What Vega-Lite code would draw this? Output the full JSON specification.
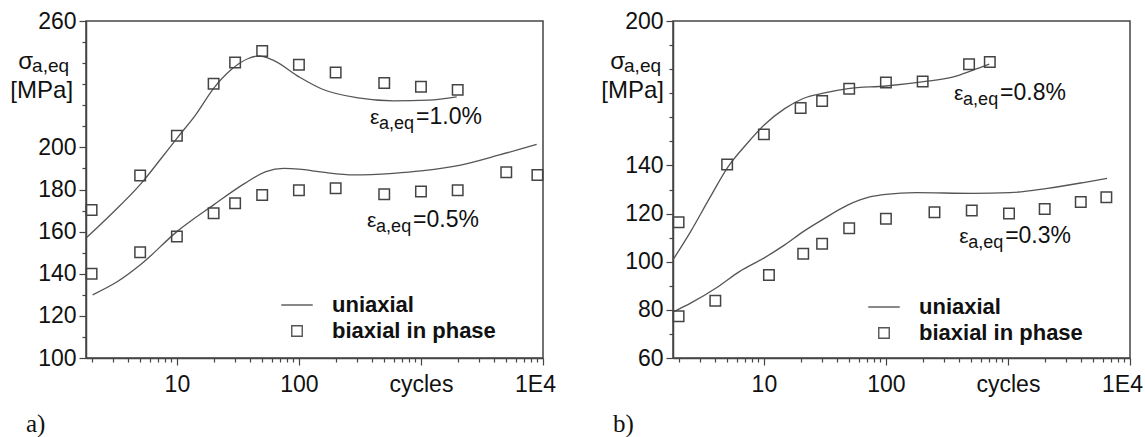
{
  "$schema": "https://vega.github.io/schema/vega-lite/v6.json",
  "padding": {"left": 9, "top": 9, "right": 0, "bottom": 0},
  "background": "white",
  "config": {
    "font": "Liberation Sans",
    "view": {"stroke": "#444", "strokeWidth": 1.5},
    "axis": {"domainColor": "#444", "domainWidth": 1.5, "tickColor": "#444", "tickWidth": 1.2, "labelFont": "Liberation Sans", "labelFontSize": 23, "labelColor": "#111", "grid": false, "title": null},
    "text": {"font": "Liberation Sans", "color": "#111"}
  },
  "datasets": {
    "a_curve": [
      {"strain": "1.0%", "cycles": 1.83, "stress": 157.3},
      {"strain": "1.0%", "cycles": 2.85, "stress": 167.9},
      {"strain": "1.0%", "cycles": 5.1, "stress": 182.9},
      {"strain": "1.0%", "cycles": 7.26, "stress": 194},
      {"strain": "1.0%", "cycles": 10, "stress": 204.3},
      {"strain": "1.0%", "cycles": 14.2, "stress": 215.3},
      {"strain": "1.0%", "cycles": 20, "stress": 228},
      {"strain": "1.0%", "cycles": 27.6, "stress": 236.7},
      {"strain": "1.0%", "cycles": 38.5, "stress": 242.2},
      {"strain": "1.0%", "cycles": 47, "stress": 243.4},
      {"strain": "1.0%", "cycles": 61.4, "stress": 241.4},
      {"strain": "1.0%", "cycles": 100, "stress": 233.5},
      {"strain": "1.0%", "cycles": 156, "stress": 227.6},
      {"strain": "1.0%", "cycles": 305, "stress": 223.5},
      {"strain": "1.0%", "cycles": 594, "stress": 222.1},
      {"strain": "1.0%", "cycles": 1159, "stress": 222.4},
      {"strain": "1.0%", "cycles": 1963, "stress": 224},
      {"strain": "0.5%", "cycles": 2.04, "stress": 130},
      {"strain": "0.5%", "cycles": 3.26, "stress": 136.3},
      {"strain": "0.5%", "cycles": 5.2, "stress": 145},
      {"strain": "0.5%", "cycles": 10, "stress": 160},
      {"strain": "0.5%", "cycles": 20, "stress": 172.7},
      {"strain": "0.5%", "cycles": 36, "stress": 182.9},
      {"strain": "0.5%", "cycles": 53.7, "stress": 188.5},
      {"strain": "0.5%", "cycles": 75, "stress": 190},
      {"strain": "0.5%", "cycles": 100, "stress": 189.7},
      {"strain": "0.5%", "cycles": 156, "stress": 188.2},
      {"strain": "0.5%", "cycles": 285, "stress": 186.9},
      {"strain": "0.5%", "cycles": 594, "stress": 187.7},
      {"strain": "0.5%", "cycles": 1000, "stress": 188.8},
      {"strain": "0.5%", "cycles": 2113, "stress": 191.6},
      {"strain": "0.5%", "cycles": 4395, "stress": 196.4},
      {"strain": "0.5%", "cycles": 8870, "stress": 201.4}
    ],
    "a_points": [
      {"series": "biaxial in phase", "strain": "1.0%", "cycles": 2, "stress": 170.3},
      {"series": "biaxial in phase", "strain": "1.0%", "cycles": 5, "stress": 186.7},
      {"series": "biaxial in phase", "strain": "1.0%", "cycles": 10, "stress": 205.5},
      {"series": "biaxial in phase", "strain": "1.0%", "cycles": 20, "stress": 230.2},
      {"series": "biaxial in phase", "strain": "1.0%", "cycles": 30, "stress": 240.3},
      {"series": "biaxial in phase", "strain": "1.0%", "cycles": 50, "stress": 245.8},
      {"series": "biaxial in phase", "strain": "1.0%", "cycles": 100, "stress": 239.2},
      {"series": "biaxial in phase", "strain": "1.0%", "cycles": 200, "stress": 235.6},
      {"series": "biaxial in phase", "strain": "1.0%", "cycles": 500, "stress": 230.6},
      {"series": "biaxial in phase", "strain": "1.0%", "cycles": 1000, "stress": 228.8},
      {"series": "biaxial in phase", "strain": "1.0%", "cycles": 2000, "stress": 227.3},
      {"series": "biaxial in phase", "strain": "0.5%", "cycles": 2, "stress": 140},
      {"series": "biaxial in phase", "strain": "0.5%", "cycles": 5, "stress": 150.2},
      {"series": "biaxial in phase", "strain": "0.5%", "cycles": 10, "stress": 157.7},
      {"series": "biaxial in phase", "strain": "0.5%", "cycles": 20, "stress": 168.7},
      {"series": "biaxial in phase", "strain": "0.5%", "cycles": 30, "stress": 173.5},
      {"series": "biaxial in phase", "strain": "0.5%", "cycles": 50, "stress": 177.4},
      {"series": "biaxial in phase", "strain": "0.5%", "cycles": 100, "stress": 179.6},
      {"series": "biaxial in phase", "strain": "0.5%", "cycles": 200, "stress": 180.6},
      {"series": "biaxial in phase", "strain": "0.5%", "cycles": 500, "stress": 177.7},
      {"series": "biaxial in phase", "strain": "0.5%", "cycles": 1000, "stress": 179},
      {"series": "biaxial in phase", "strain": "0.5%", "cycles": 2000, "stress": 179.6},
      {"series": "biaxial in phase", "strain": "0.5%", "cycles": 5000, "stress": 188.2},
      {"series": "biaxial in phase", "strain": "0.5%", "cycles": 9000, "stress": 186.9}
    ],
    "a_labels": [
      {"cycles": 383, "stress": 211.1, "val": "=1.0%"},
      {"cycles": 362, "stress": 162.2, "val": "=0.5%"}
    ],
    "a_unit": [
      {"cycles": 1.41, "stress": 223.4, "unit": "[MPa]"}
    ],
    "a_sym": [
      {"cycles": 1.41, "stress": 237.2, "sym": "σ", "sub": "a,eq"}
    ],
    "b_curve": [
      {"strain": "0.8%", "cycles": 1.8, "stress": 100.8},
      {"strain": "0.8%", "cycles": 2.51, "stress": 112.5},
      {"strain": "0.8%", "cycles": 3.58, "stress": 126.3},
      {"strain": "0.8%", "cycles": 5.1, "stress": 139.5},
      {"strain": "0.8%", "cycles": 7.28, "stress": 149.1},
      {"strain": "0.8%", "cycles": 10, "stress": 156.7},
      {"strain": "0.8%", "cycles": 14.8, "stress": 163.6},
      {"strain": "0.8%", "cycles": 21, "stress": 167.8},
      {"strain": "0.8%", "cycles": 30, "stress": 169.9},
      {"strain": "0.8%", "cycles": 49, "stress": 171.9},
      {"strain": "0.8%", "cycles": 100, "stress": 173},
      {"strain": "0.8%", "cycles": 197, "stress": 174.7},
      {"strain": "0.8%", "cycles": 358, "stress": 176.8},
      {"strain": "0.8%", "cycles": 511, "stress": 179.5},
      {"strain": "0.8%", "cycles": 702, "stress": 182.1},
      {"strain": "0.3%", "cycles": 1.83, "stress": 79.3},
      {"strain": "0.3%", "cycles": 2.51, "stress": 82.8},
      {"strain": "0.3%", "cycles": 4.12, "stress": 89.3},
      {"strain": "0.3%", "cycles": 6.3, "stress": 95.9},
      {"strain": "0.3%", "cycles": 10, "stress": 101.5},
      {"strain": "0.3%", "cycles": 14.8, "stress": 107},
      {"strain": "0.3%", "cycles": 21, "stress": 112.5},
      {"strain": "0.3%", "cycles": 30, "stress": 117.4},
      {"strain": "0.3%", "cycles": 49, "stress": 123.6},
      {"strain": "0.3%", "cycles": 75, "stress": 127},
      {"strain": "0.3%", "cycles": 100, "stress": 128},
      {"strain": "0.3%", "cycles": 176, "stress": 128.7},
      {"strain": "0.3%", "cycles": 511, "stress": 128.4},
      {"strain": "0.3%", "cycles": 1036, "stress": 128.7},
      {"strain": "0.3%", "cycles": 2104, "stress": 130.5},
      {"strain": "0.3%", "cycles": 4275, "stress": 133},
      {"strain": "0.3%", "cycles": 6486, "stress": 134.6}
    ],
    "b_points": [
      {"series": "biaxial in phase", "strain": "0.8%", "cycles": 2, "stress": 116.4},
      {"series": "biaxial in phase", "strain": "0.8%", "cycles": 5, "stress": 140.4},
      {"series": "biaxial in phase", "strain": "0.8%", "cycles": 10, "stress": 152.9},
      {"series": "biaxial in phase", "strain": "0.8%", "cycles": 20, "stress": 163.9},
      {"series": "biaxial in phase", "strain": "0.8%", "cycles": 30, "stress": 166.8},
      {"series": "biaxial in phase", "strain": "0.8%", "cycles": 50, "stress": 171.9},
      {"series": "biaxial in phase", "strain": "0.8%", "cycles": 100, "stress": 174.5},
      {"series": "biaxial in phase", "strain": "0.8%", "cycles": 200, "stress": 174.9},
      {"series": "biaxial in phase", "strain": "0.8%", "cycles": 480, "stress": 182},
      {"series": "biaxial in phase", "strain": "0.8%", "cycles": 710, "stress": 183},
      {"series": "biaxial in phase", "strain": "0.3%", "cycles": 2, "stress": 77.3},
      {"series": "biaxial in phase", "strain": "0.3%", "cycles": 4, "stress": 83.8},
      {"series": "biaxial in phase", "strain": "0.3%", "cycles": 11, "stress": 94.5},
      {"series": "biaxial in phase", "strain": "0.3%", "cycles": 21, "stress": 103.3},
      {"series": "biaxial in phase", "strain": "0.3%", "cycles": 30, "stress": 107.5},
      {"series": "biaxial in phase", "strain": "0.3%", "cycles": 50, "stress": 113.9},
      {"series": "biaxial in phase", "strain": "0.3%", "cycles": 100, "stress": 117.8},
      {"series": "biaxial in phase", "strain": "0.3%", "cycles": 250, "stress": 120.5},
      {"series": "biaxial in phase", "strain": "0.3%", "cycles": 505, "stress": 121.3},
      {"series": "biaxial in phase", "strain": "0.3%", "cycles": 1020, "stress": 120},
      {"series": "biaxial in phase", "strain": "0.3%", "cycles": 2000, "stress": 121.9},
      {"series": "biaxial in phase", "strain": "0.3%", "cycles": 3950, "stress": 124.8},
      {"series": "biaxial in phase", "strain": "0.3%", "cycles": 6400, "stress": 126.8}
    ],
    "b_labels": [
      {"cycles": 362, "stress": 167.2, "val": "=0.8%"},
      {"cycles": 398, "stress": 107.8, "val": "=0.3%"}
    ],
    "b_unit": [
      {"cycles": 1.52, "stress": 168, "unit": "[MPa]"}
    ],
    "b_sym": [
      {"cycles": 1.52, "stress": 180.1, "sym": "σ", "sub": "a,eq"}
    ]
  },
  "hconcat": [
    {
      "width": 457,
      "height": 337,
      "title": {"text": "a)", "orient": "bottom", "anchor": "start", "frame": "group", "dx": -60, "offset": 16, "font": "Liberation Serif", "fontSize": 25, "fontWeight": "normal", "color": "#111"},
      "encoding": {
        "x": {"field": "cycles", "type": "quantitative",
          "scale": {"type": "log", "domain": [1.8, 10000], "nice": false},
          "axis": {"title": null,
            "values": [2,3,4,5,6,7,8,9,10,20,30,40,50,60,70,80,90,100,200,300,400,500,600,700,800,900,1000,2000,3000,4000,5000,6000,7000,8000,9000,10000],
            "labelExpr": "datum.value == 10 ? '10' : datum.value == 100 ? '100' : datum.value == 1000 ? 'cycles' : datum.value == 10000 ? '1E4' : ''",
            "tickSize": {"condition": {"test": "datum.value == 10 || datum.value == 100 || datum.value == 1000 || datum.value == 10000", "value": 7}, "value": 4},
            "labelOffset": {"condition": {"test": "datum.value == 10000", "value": -8}, "value": 0},
            "labelPadding": 8, "labelFlush": false, "labelOverlap": false, "labelBound": false}},
        "y": {"field": "stress", "type": "quantitative",
          "scale": {"domain": [100, 260], "nice": false, "zero": false},
          "axis": {"title": null,
            "values": [100,110,120,130,140,150,160,170,180,190,200,210,220,230,240,250,260],
            "labelExpr": "indexof([100,120,140,160,180,200,260], datum.value) >= 0 ? datum.label : ''",
            "tickSize": {"condition": {"test": "indexof([100,120,140,160,180,200,260], datum.value) >= 0", "value": 7}, "value": 4},
            "labelPadding": 3, "labelOverlap": false}}
      },
      "layer": [
        {
          "data": {"name": "a_curve"},
          "mark": {"type": "line", "interpolate": "monotone", "color": "#555", "strokeWidth": 1.3},
          "encoding": {"detail": {"field": "strain", "type": "nominal"}}
        },
        {
          "data": {"name": "a_points"},
          "mark": {"type": "point", "filled": false, "color": "#444", "strokeWidth": 1.5, "size": 110, "opacity": 1},
          "encoding": {
            "shape": {"field": "series", "type": "nominal",
              "scale": {"domain": ["uniaxial", "biaxial in phase"], "range": ["M-3,0H3", "square"]},
              "legend": {"title": null, "orient": "none", "legendX": 200, "legendY": 273, "padding": 0,
                "labelFontSize": 22, "labelFontWeight": "bold", "labelFont": "Liberation Sans", "labelColor": "#111", "labelLimit": 400,
                "symbolSize": 110, "symbolStrokeColor": "#555", "symbolFillColor": "transparent", "symbolStrokeWidth": 1.4,
                "labelOffset": 24, "rowPadding": 4}}
          }
        },
        {
          "data": {"name": "a_labels"},
          "mark": {"type": "text", "text": "ε", "align": "left", "baseline": "alphabetic", "fontSize": 21}
        },
        {
          "data": {"name": "a_labels"},
          "mark": {"type": "text", "text": "a,eq", "align": "left", "baseline": "alphabetic", "fontSize": 18, "dx": 9, "dy": 5}
        },
        {
          "data": {"name": "a_labels"},
          "mark": {"type": "text", "align": "left", "baseline": "alphabetic", "fontSize": 23, "dx": 46},
          "encoding": {"text": {"field": "val", "type": "nominal"}}
        },
        {
          "data": {"name": "a_unit"},
          "mark": {"type": "text", "align": "right", "baseline": "alphabetic", "fontSize": 24},
          "encoding": {"text": {"field": "unit", "type": "nominal"}}
        },
        {
          "data": {"name": "a_sym"},
          "mark": {"type": "text", "align": "right", "baseline": "alphabetic", "fontSize": 19, "dx": -4, "dy": 3},
          "encoding": {"text": {"field": "sub", "type": "nominal"}}
        },
        {
          "data": {"name": "a_sym"},
          "mark": {"type": "text", "align": "right", "baseline": "alphabetic", "fontSize": 24, "dx": -40},
          "encoding": {"text": {"field": "sym", "type": "nominal"}}
        }
      ]
    },
    {
      "width": 457,
      "height": 337,
      "title": {"text": "b)", "orient": "bottom", "anchor": "start", "frame": "group", "dx": -60, "offset": 16, "font": "Liberation Serif", "fontSize": 25, "fontWeight": "normal", "color": "#111"},
      "encoding": {
        "x": {"field": "cycles", "type": "quantitative",
          "scale": {"type": "log", "domain": [1.8, 10000], "nice": false},
          "axis": {"title": null,
            "values": [2,3,4,5,6,7,8,9,10,20,30,40,50,60,70,80,90,100,200,300,400,500,600,700,800,900,1000,2000,3000,4000,5000,6000,7000,8000,9000,10000],
            "labelExpr": "datum.value == 10 ? '10' : datum.value == 100 ? '100' : datum.value == 1000 ? 'cycles' : datum.value == 10000 ? '1E4' : ''",
            "tickSize": {"condition": {"test": "datum.value == 10 || datum.value == 100 || datum.value == 1000 || datum.value == 10000", "value": 7}, "value": 4},
            "labelOffset": {"condition": {"test": "datum.value == 10000", "value": -8}, "value": 0},
            "labelPadding": 8, "labelFlush": false, "labelOverlap": false, "labelBound": false}},
        "y": {"field": "stress", "type": "quantitative",
          "scale": {"domain": [60, 200], "nice": false, "zero": false},
          "axis": {"title": null,
            "values": [60,70,80,90,100,110,120,130,140,150,160,170,180,190,200],
            "labelExpr": "indexof([60,80,100,120,140,200], datum.value) >= 0 ? datum.label : ''",
            "tickSize": {"condition": {"test": "indexof([60,80,100,120,140,200], datum.value) >= 0", "value": 7}, "value": 4},
            "labelPadding": 3, "labelOverlap": false}}
      },
      "layer": [
        {
          "data": {"name": "b_curve"},
          "mark": {"type": "line", "interpolate": "monotone", "color": "#555", "strokeWidth": 1.3},
          "encoding": {"detail": {"field": "strain", "type": "nominal"}}
        },
        {
          "data": {"name": "b_points"},
          "mark": {"type": "point", "filled": false, "color": "#444", "strokeWidth": 1.5, "size": 110, "opacity": 1},
          "encoding": {
            "shape": {"field": "series", "type": "nominal",
              "scale": {"domain": ["uniaxial", "biaxial in phase"], "range": ["M-3,0H3", "square"]},
              "legend": {"title": null, "orient": "none", "legendX": 200, "legendY": 275, "padding": 0,
                "labelFontSize": 22, "labelFontWeight": "bold", "labelFont": "Liberation Sans", "labelColor": "#111", "labelLimit": 400,
                "symbolSize": 110, "symbolStrokeColor": "#555", "symbolFillColor": "transparent", "symbolStrokeWidth": 1.4,
                "labelOffset": 24, "rowPadding": 4}}
          }
        },
        {
          "data": {"name": "b_labels"},
          "mark": {"type": "text", "text": "ε", "align": "left", "baseline": "alphabetic", "fontSize": 21}
        },
        {
          "data": {"name": "b_labels"},
          "mark": {"type": "text", "text": "a,eq", "align": "left", "baseline": "alphabetic", "fontSize": 18, "dx": 9, "dy": 5}
        },
        {
          "data": {"name": "b_labels"},
          "mark": {"type": "text", "align": "left", "baseline": "alphabetic", "fontSize": 23, "dx": 46},
          "encoding": {"text": {"field": "val", "type": "nominal"}}
        },
        {
          "data": {"name": "b_unit"},
          "mark": {"type": "text", "align": "right", "baseline": "alphabetic", "fontSize": 24},
          "encoding": {"text": {"field": "unit", "type": "nominal"}}
        },
        {
          "data": {"name": "b_sym"},
          "mark": {"type": "text", "align": "right", "baseline": "alphabetic", "fontSize": 19, "dx": -3, "dy": 3},
          "encoding": {"text": {"field": "sub", "type": "nominal"}}
        },
        {
          "data": {"name": "b_sym"},
          "mark": {"type": "text", "align": "right", "baseline": "alphabetic", "fontSize": 24, "dx": -39},
          "encoding": {"text": {"field": "sym", "type": "nominal"}}
        }
      ]
    }
  ],
  "resolve": {"scale": {"x": "independent", "y": "independent", "shape": "independent"}, "legend": {"shape": "independent"}},
  "bounds": "flush",
  "spacing": 130
}
